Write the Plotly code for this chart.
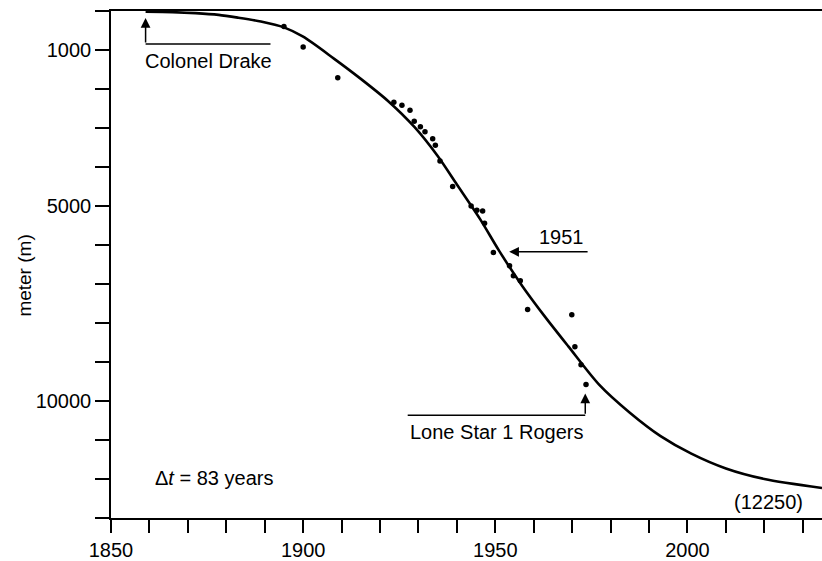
import plotly.graph_objects as go

# ---- data ----
curve_years = [1859, 1866, 1872, 1878, 1883, 1889, 1895, 1900, 1908, 1915, 1922, 1929,
               1935, 1940, 1946, 1951, 1957, 1963, 1969, 1977, 1985, 1993, 2001, 2010,
               2020, 2035]
curve_depth = [20, 30, 55, 100, 170, 270, 420, 660, 1220, 1740, 2300, 2980,
               3720, 4450, 5330, 6150, 7050, 7850, 8600, 9580, 10300, 10900, 11350, 11730,
               12000, 12230]

well_years = [1895, 1900, 1909, 1923.6, 1925.7, 1927.8, 1928.9, 1930.5, 1931.7, 1933.7,
              1934.4, 1935.6, 1938.9, 1943.7, 1945.2, 1946.7, 1947.2, 1949.5, 1953.7,
              1954.7, 1956.5, 1958.4, 1969.9, 1970.7, 1972.3, 1973.6]
well_depth = [400, 920, 1711, 2342, 2419, 2547, 2828, 2971, 3099, 3278,
              3440, 3849, 4503, 4998, 5109, 5126, 5440, 6190, 6530,
              6787, 6914, 7655, 7790, 8608, 9068, 9578]

x_tickvals = list(range(1850, 2040, 10))
x_ticktext = [str(v) if v in (1850, 1900, 1950, 2000) else "" for v in x_tickvals]
y_tickvals = list(range(0, 14000, 1000))
y_ticktext = [str(v) if v in (1000, 5000, 10000) else "" for v in y_tickvals]

FONT = "Liberation Sans, Arial, sans-serif"

fig = go.Figure()
fig.add_trace(go.Scatter(x=curve_years, y=curve_depth, mode="lines",
                         line=dict(color="black", width=2.6, shape="spline", smoothing=0.8),
                         hoverinfo="skip", showlegend=False))
fig.add_trace(go.Scatter(x=well_years, y=well_depth, mode="markers",
                         marker=dict(color="black", size=5.5),
                         showlegend=False))

# annotation lines
line_style = dict(color="black", width=1.5)
fig.add_shape(type="line", x0=1859, x1=1891.5, y0=843, y1=843, line=line_style)
fig.add_shape(type="line", x0=1927.2, x1=1973.4, y0=10363, y1=10363, line=line_style)

arrow = dict(showarrow=True, arrowhead=2, arrowsize=1.3, arrowwidth=1.5,
             arrowcolor="black", axref="x", ayref="y", text="")
fig.add_annotation(x=1859, y=179, ax=1859, ay=843, **arrow)
fig.add_annotation(x=1953.6, y=6174, ax=1974.4, ay=6174, **arrow)
fig.add_annotation(x=1973.4, y=9808, ax=1973.4, ay=10363, **arrow)

txt = dict(showarrow=False, font=dict(family=FONT, size=20, color="black"))
fig.add_annotation(x=1858.2, y=1277, text="Colonel Drake", xanchor="left", yanchor="middle", **txt)
fig.add_annotation(x=1967.2, y=5806, text="1951", xanchor="center", yanchor="middle", **txt)
fig.add_annotation(x=1927.2, y=10787, text="Lone Star 1 Rogers", xanchor="left", yanchor="middle", **txt)
fig.add_annotation(x=1860.8, y=11980, text="\u0394<i>t</i> = 83 years", xanchor="left", yanchor="middle", **txt)
fig.add_annotation(x=2030.5, y=12593, text="(12250)", xanchor="right", yanchor="middle", **txt)
fig.add_annotation(xref="paper", yref="paper", x=-0.121, y=0.478, text="meter (m)",
                   textangle=-90, xanchor="center", yanchor="middle", showarrow=False,
                   font=dict(family=FONT, size=19, color="black"))

fig.update_layout(
    width=822, height=561,
    margin=dict(l=111, r=0, t=11, b=41),
    paper_bgcolor="white", plot_bgcolor="white",
    font=dict(family=FONT, size=19, color="black"),
    xaxis=dict(range=[1850, 2035], tickvals=x_tickvals, ticktext=x_ticktext,
               ticks="outside", ticklen=13, tickwidth=1.5, tickcolor="black",
               showline=True, linecolor="black", linewidth=1.5, mirror=True,
               showgrid=False, zeroline=False, tickfont=dict(size=20)),
    yaxis=dict(range=[13000, 0], tickvals=y_tickvals, ticktext=y_ticktext,
               ticks="outside", ticklen=14, tickwidth=1.5, tickcolor="black",
               showline=True, linecolor="black", linewidth=1.5, mirror=False,
               showgrid=False, zeroline=False, tickfont=dict(size=20)),
)

fig.write_html("out.html")
